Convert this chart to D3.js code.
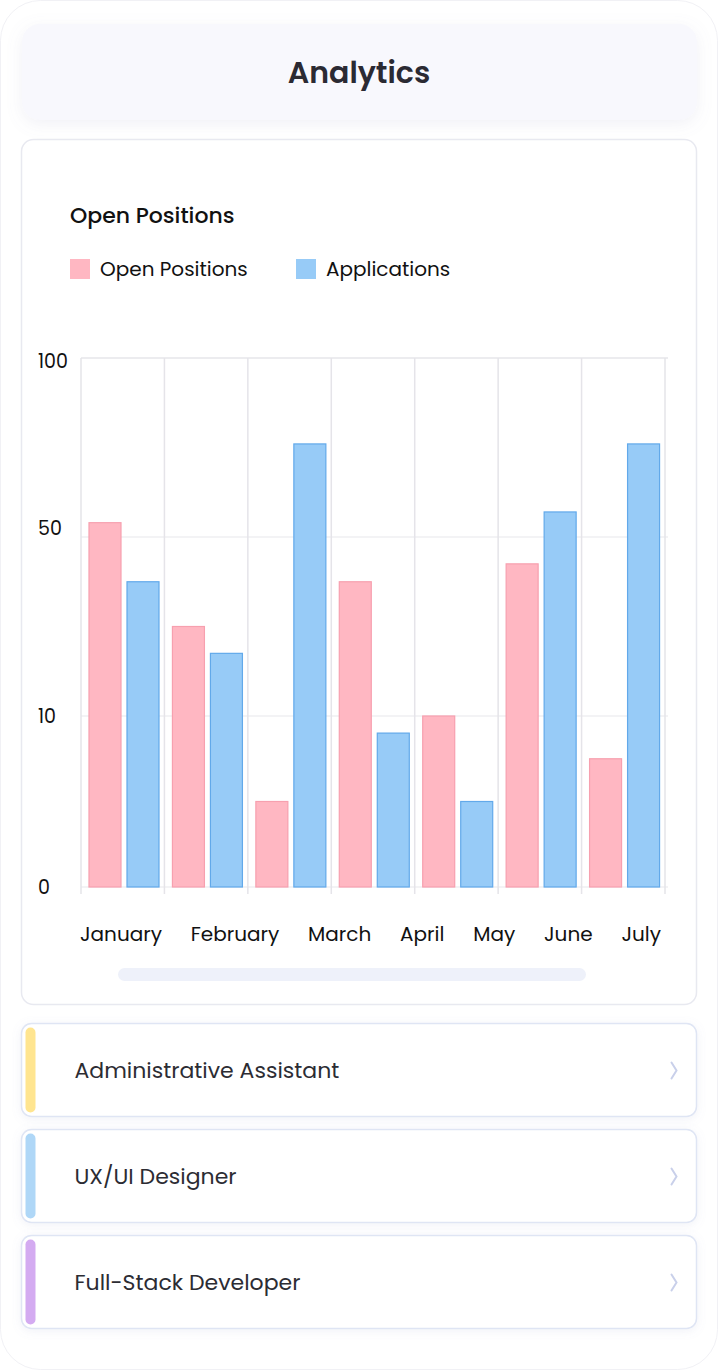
<!DOCTYPE html>
<html>
<head>
<meta charset="utf-8">
<script src="https://cdn.jsdelivr.net/npm/d3@7"></script>
<style>
  body { margin: 0; background: #fff; }
  svg text { font-family: Poppins, "Noto Sans", sans-serif; }
</style>
</head>
<body>
<div id="page"></div>
<script>
// data
const months = ['January', 'February', 'March', 'April', 'May', 'June', 'July'];
const openPositions = [54, 30, 5, 40, 10, 44, 7.5];
const applications = [40, 24, 76, 9, 5, 57, 76];
const seriesNames = ['Open Positions', 'Applications'];
const yTicks = [0, 10, 50, 100];
const jobTitles = ['Administrative Assistant', 'UX/UI Designer', 'Full-Stack Developer'];
const jobColors = ['#ffe590', '#afd7f7', '#d4abf1'];

(function () {
  const W = 718, H = 1370;
  const svg = d3.select('#page').append('svg').attr('width', W).attr('height', H);

  const defs = svg.append('defs');
  const soft = defs.append('filter').attr('id', 'soft').attr('x', '-10%').attr('y', '-30%').attr('width', '120%').attr('height', '160%');
  soft.append('feDropShadow').attr('dx', 0).attr('dy', 4).attr('stdDeviation', 8).attr('flood-color', '#8c8cb4').attr('flood-opacity', 0.12);
  const small = defs.append('filter').attr('id', 'small').attr('x', '-5%').attr('y', '-20%').attr('width', '110%').attr('height', '140%');
  small.append('feDropShadow').attr('dx', 0).attr('dy', 2).attr('stdDeviation', 5).attr('flood-color', '#8c96c8').attr('flood-opacity', 0.12);

  // outer frame
  svg.append('rect').attr('x', 0.5).attr('y', 0.5).attr('width', W - 1).attr('height', H - 1)
    .attr('rx', 40).attr('fill', '#fff').attr('stroke', '#f1f1f5');

  // header
  svg.append('rect').attr('x', 22).attr('y', 24).attr('width', 675).attr('height', 96).attr('rx', 18)
    .attr('fill', '#f8f8fd').attr('filter', 'url(#soft)');
  svg.append('text').attr('x', 359).attr('y', 72).attr('dy', '0.35em').attr('text-anchor', 'middle')
    .style('font-size', '30px').style('font-weight', 600).attr('fill', '#2b2a33').text('Analytics');

  // chart card
  svg.append('rect').attr('x', 21.5).attr('y', 139.5).attr('width', 675).attr('height', 865).attr('rx', 12)
    .attr('fill', '#fff').attr('stroke', '#e8e9f0').attr('stroke-width', 1.5);
  svg.append('text').attr('x', 70).attr('y', 215).attr('dy', '0.35em')
    .style('font-size', '22px').style('font-weight', 500).attr('fill', '#111').text('Open Positions');

  const fills = ['#ffb7c2', '#97cbf7'];
  const strokes = ['#f7a0af', '#62a9ea'];

  // legend
  const legendX = [70, 296];
  const lg = svg.append('g').selectAll('g').data(seriesNames).join('g')
    .attr('transform', (d, i) => `translate(${legendX[i]},259)`);
  lg.append('rect').attr('width', 20).attr('height', 20).attr('fill', (d, i) => fills[i]);
  lg.append('text').attr('x', 30).attr('y', 10).attr('dy', '0.35em')
    .style('font-size', '20px').attr('fill', '#111').text(d => d);

  // scales
  const x = d3.scaleBand().domain(months).range([81, 665]);
  const xSub = d3.scaleBand().domain(seriesNames).range([8, 78]).paddingInner(6 / 38);
  const y = d3.scaleLinear().domain(yTicks).range([887, 716, 537, 358]);

  const plot = svg.append('g');

  // horizontal grid
  plot.selectAll('line.h').data(yTicks).join('line').attr('class', 'h')
    .attr('x1', 81).attr('x2', 668).attr('y1', d => y(d)).attr('y2', d => y(d))
    .attr('stroke', d => d === 100 ? '#e6e6ea' : '#efeff2').attr('stroke-width', 1.5);

  // vertical grid at band edges
  const edges = months.map(m => x(m)).concat([x.range()[1]]);
  plot.selectAll('line.v').data(edges).join('line').attr('class', 'v')
    .attr('x1', d => d).attr('x2', d => d).attr('y1', y(100)).attr('y2', y(0) + 7)
    .attr('stroke', '#e5e4e9').attr('stroke-width', 1.5);

  // y labels
  plot.selectAll('text.y').data(yTicks).join('text').attr('class', 'y')
    .attr('x', 38).attr('y', d => y(d) + (d === 50 ? -9 : d === 100 ? 3 : 0)).attr('dy', '0.35em')
    .style('font-size', '19px').attr('fill', '#111').text(d => d);

  // bars
  const rows = months.map((m, i) => ({ month: m, values: [openPositions[i], applications[i]] }));
  const groups = plot.selectAll('g.grp').data(rows).join('g').attr('class', 'grp')
    .attr('transform', d => `translate(${x(d.month)},0)`);
  groups.selectAll('rect').data(d => d.values.map((v, i) => ({ key: seriesNames[i], v, i }))).join('rect')
    .attr('x', d => xSub(d.key)).attr('width', xSub.bandwidth())
    .attr('y', d => y(d.v)).attr('height', d => y(0) - y(d.v))
    .attr('fill', d => fills[d.i]).attr('stroke', d => strokes[d.i]).attr('stroke-width', 1.2);

  // x labels, spread evenly (space-between) under the plot
  const xl = plot.selectAll('text.x').data(months).join('text').attr('class', 'x')
    .attr('y', 934).attr('dy', '0.35em').style('font-size', '20px').attr('fill', '#111').text(d => d);
  const widths = xl.nodes().map(n => n.getComputedTextLength());
  const left = 80, right = 661;
  const gap = (right - left - d3.sum(widths)) / (months.length - 1);
  let cx = left;
  xl.attr('x', (d, i) => { const p = cx; cx += widths[i] + gap; return p; });

  // scrollbar
  svg.append('rect').attr('x', 118).attr('y', 968).attr('width', 468).attr('height', 13).attr('rx', 6.5).attr('fill', '#eef1fa');

  // job list
  const items = svg.append('g').selectAll('g').data(jobTitles).join('g')
    .attr('transform', (d, i) => `translate(21.5,${1023.5 + i * 106})`);
  items.append('rect').attr('width', 675).attr('height', 93).attr('rx', 10)
    .attr('fill', '#fff').attr('stroke', '#dfe5f4').attr('stroke-width', 1.5).attr('filter', 'url(#small)');
  items.append('rect').attr('x', 4).attr('y', 4).attr('width', 10).attr('height', 85).attr('rx', 5)
    .attr('fill', (d, i) => jobColors[i]);
  items.append('text').attr('x', 53).attr('y', 47).attr('dy', '0.35em')
    .style('font-size', '22px').attr('fill', '#2c2c33').text(d => d);
  items.append('path').attr('d', 'M650,39 L655,47 L650,55')
    .attr('fill', 'none').attr('stroke', '#c9d0ea').attr('stroke-width', 2).attr('stroke-linecap', 'round');
})();
</script>
</body>
</html>
